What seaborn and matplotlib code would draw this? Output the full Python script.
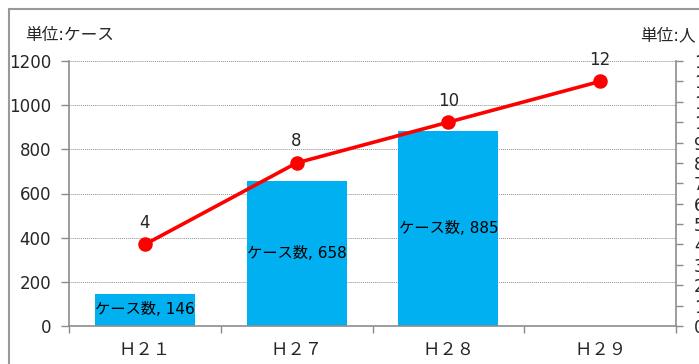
import numpy as np
import pandas as pd
import matplotlib
matplotlib.use('Agg')
import matplotlib.pyplot as plt
from matplotlib.patches import Rectangle
from matplotlib.ticker import MultipleLocator, FixedLocator
import seaborn as sns

# データ
years = ['Ｈ２１', 'Ｈ２７', 'Ｈ２８', 'Ｈ２９']
cases = [146, 658, 885, 0]            # ケース数（左軸）、H29 はなし
persons = [4, 8, 10, 12]              # 人数（右軸）
case_label = 'ケース数'

sns.set_style("white")
plt.rcParams['font.family'] = ['DejaVu Sans', 'Noto Sans CJK JP']
plt.rcParams['axes.unicode_minus'] = False

df = pd.DataFrame({'year': years, 'cases': cases, 'persons': persons})

fig = plt.figure(figsize=(6.99, 3.64), dpi=100)
ax = fig.add_axes([69 / 699, 1 - 326 / 364, (676 - 69) / 699, (326 - 61) / 364])

grey = '#8c8c8c'

# 棒グラフ
sns.barplot(data=df, x='year', y='cases', order=years, color='#00B0F0',
            width=0.66, saturation=1, ax=ax, errorbar=None, linewidth=0)
labels = [f'{case_label}, {v}' if v > 0 else '' for v in cases]
ax.bar_label(ax.containers[0], labels=labels, label_type='center',
             fontsize=11, color='black')

ax.set_ylim(0, 1200)
ax.set_xlim(-0.5, len(years) - 0.5)
ax.yaxis.set_major_locator(MultipleLocator(200))
ax.grid(axis='y', linestyle=(0, (1, 1)), color='#909090', linewidth=0.7)
ax.set_axisbelow(True)
ax.set_xlabel('')
ax.set_ylabel('')
ax.tick_params(axis='y', which='major', direction='out', length=6, width=1,
               color=grey, labelsize=12, pad=7, left=True)
ax.tick_params(axis='x', which='major', length=0, labelsize=12.5, pad=11)
ax.xaxis.set_minor_locator(FixedLocator(np.arange(-0.5, len(years), 1)))
ax.tick_params(axis='x', which='minor', direction='out', length=5, width=1,
               color=grey, bottom=True)
for s in ['top', 'right']:
    ax.spines[s].set_visible(False)
for s in ['left', 'bottom']:
    ax.spines[s].set_color(grey)
    ax.spines[s].set_linewidth(1.2)

# 折れ線（右軸）
ax2 = ax.twinx()
sns.pointplot(data=df, x='year', y='persons', order=years, color='#FF0000',
              markers='o', linestyles='-', ax=ax2, errorbar=None,
              linewidth=2.6, markersize=8.5)
for i, v in enumerate(persons):
    ax2.annotate(str(v), (i, v), xytext=(0, 9), textcoords='offset points',
                 ha='center', va='bottom', fontsize=12)
ax2.set_ylim(0, 13)
ax2.set_xlim(-0.5, len(years) - 0.5)
ax2.yaxis.set_major_locator(MultipleLocator(1))
ax2.set_ylabel('')
ax2.set_xlabel('')
ax2.tick_params(axis='y', direction='out', length=5, width=1, color=grey,
                labelsize=12, pad=8, right=True)
for s in ['top', 'left', 'bottom']:
    ax2.spines[s].set_visible(False)
ax2.spines['right'].set_color(grey)
ax2.spines['right'].set_linewidth(1.2)

# 単位
fig.text(25 / 699, 1 - 35 / 364, '単位:ケース', fontsize=12, va='center', ha='left')
fig.text(640 / 699, 1 - 35 / 364, '単位:人', fontsize=12, va='center', ha='left')

# 外枠
fig.patches.append(Rectangle((9 / 699, -0.1), 1.2, 1.1 - 9 / 364, transform=fig.transFigure,
                             fill=False, edgecolor='#999999', linewidth=1.5))

fig.savefig('out.png', dpi=100)
